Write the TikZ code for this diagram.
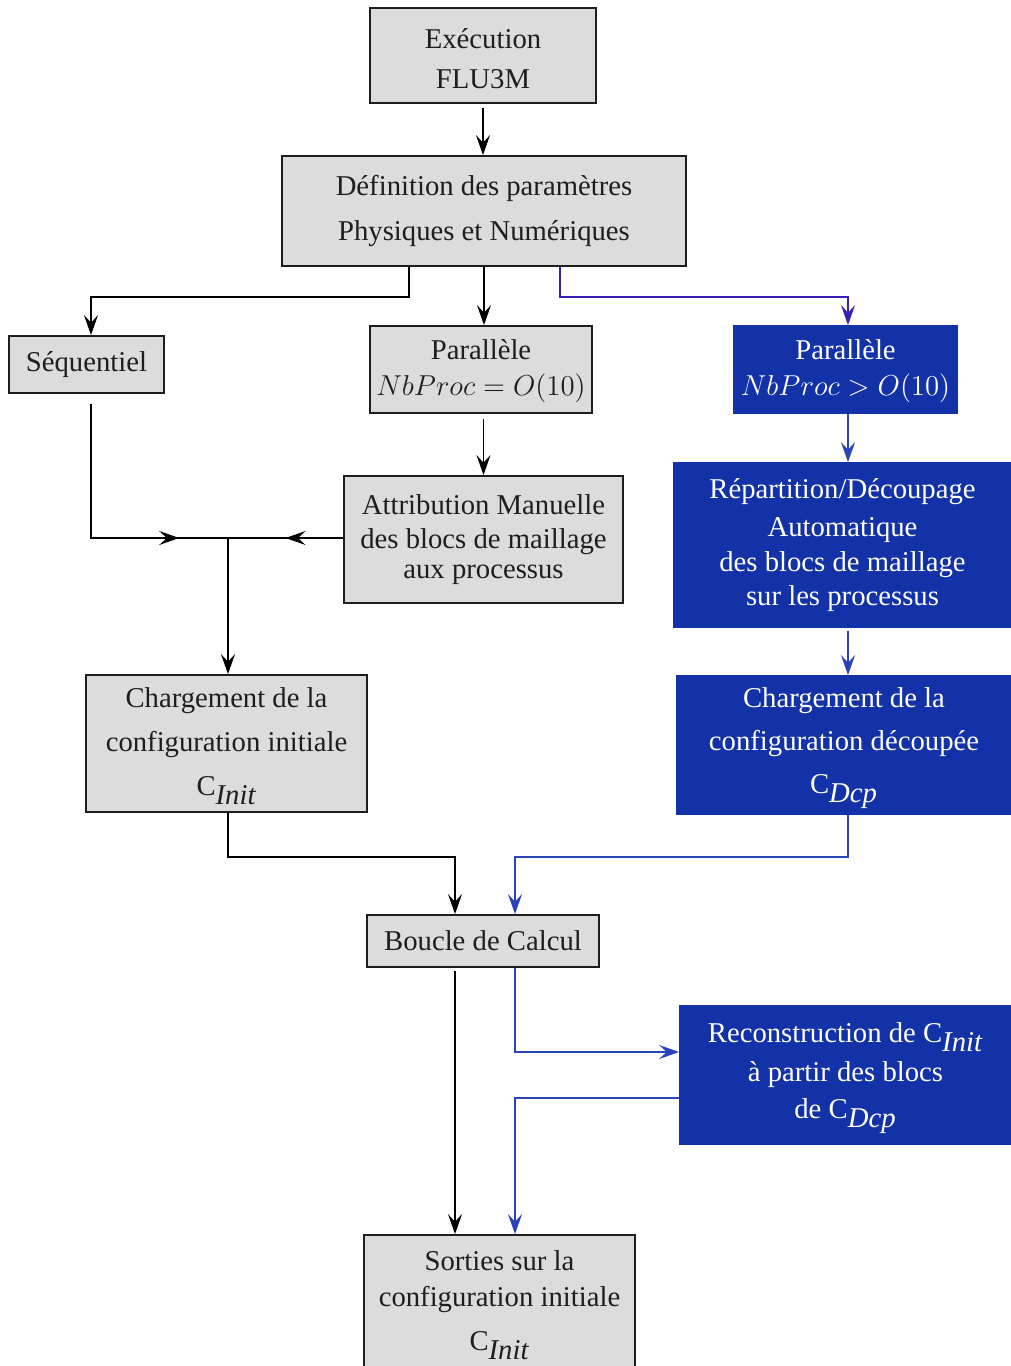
\documentclass[tikz,border=0pt]{standalone}
\usepackage{fontspec}
\setmainfont{Liberation Serif}
\usetikzlibrary{arrows.meta,calc,decorations.markings}
\definecolor{gfill}{HTML}{DCDCDC}
\definecolor{gtext}{HTML}{1E1E1E}
\definecolor{bfill}{HTML}{1432A8}
\definecolor{bline}{HTML}{2A44B8}
\definecolor{pline}{HTML}{3C1EB4}
\tikzset{
  tipA/.tip={Stealth[length=10pt,width=7pt,inset=3.8pt]},
  gbox/.style={draw=gtext,line width=0.9pt,fill=gfill,text=gtext,inner sep=0pt,align=center,
    font=\fontsize{14.35}{17.2}\selectfont},
  bbox/.style={draw=bfill,line width=0.9pt,fill=bfill,text=white,inner sep=0pt,align=center,
    font=\fontsize{14.35}{17.2}\selectfont},
  conn/.style={line width=0.8pt,draw=black},
  arr/.style={conn,-tipA},
  barr/.style={line width=0.75pt,draw=bline,-tipA},
  parr/.style={line width=0.75pt,draw=pline,-tipA},
  midarr/.style={postaction={decorate,decoration={markings,mark=at position #1 with {\arrow{tipA}}}}}
}
\begin{document}
\begin{tikzpicture}[x=0.5pt,y=-0.5pt]
\clip (0,0) rectangle (1011,1366);
\fill[white] (0,0) rectangle (1011,1366);

% nodes (px coordinates, sizes in pt = px/2)
\node[gbox,minimum width=113pt,minimum height=47.5pt] (exe) at (483,55.5)
  {\rule{0pt}{13pt}Exécution\\[2.8pt]FLU3M};
\node[gbox,minimum width=202pt,minimum height=55pt] (def) at (484,211)
  {Définition des paramètres\\[5.3pt]Physiques et Numériques};
\node[gbox,minimum width=77.5pt,minimum height=28.5pt] (seq) at (86.5,364.5)
  {Séquentiel};
\node[gbox,minimum width=111pt,minimum height=43.5pt] (par1) at (481,369.5)
  {\rule{0pt}{12pt}Parallèle\\[0.8pt]$NbProc = O(10)$};
\node[bbox,minimum width=111.5pt,minimum height=43.5pt] (par2) at (845.5,369.5)
  {\rule{0pt}{12pt}Parallèle\\[0.8pt]$NbProc > O(10)$};
\node[gbox,minimum width=139.5pt,minimum height=63.5pt] (att) at (483.5,539.5)
  {Attribution Manuelle\\[-0.3pt]des blocs de maillage\\[-2pt]aux processus};
\node[bbox,minimum width=168.5pt,minimum height=82pt] (rep) at (842.5,545)
  {Répartition/Découpage\\[1.6pt]Automatique\\[0.6pt]des blocs de maillage\\[-0.6pt]sur les processus};
\node[gbox,minimum width=140.5pt,minimum height=68.5pt] (chi) at (226.5,743.5)
  {\rule{0pt}{13pt}Chargement de la\\[4.8pt]configuration initiale\\[4.8pt]C$_{\textit{Init}}$};
\node[bbox,minimum width=167pt,minimum height=69pt] (chd) at (844,745)
  {\rule{0pt}{13pt}Chargement de la\\[4.6pt]configuration découpée\\[4.2pt]C$_{\textit{Dcp}}$};
\node[gbox,minimum width=116pt,minimum height=26pt] (bou) at (483,941)
  {Boucle de Calcul};
\node[bbox,minimum width=165.5pt,minimum height=69pt] (rec) at (845.5,1075)
  {\rule{0pt}{13pt}Reconstruction de C$_{\textit{Init}}$\\[2.3pt]à partir des blocs\\[1.3pt]de C$_{\textit{Dcp}}$};
\node[gbox,minimum width=135.5pt,minimum height=67pt] (sor) at (499.5,1302)
  {\rule{0pt}{13pt}Sorties sur la\\[0.8pt]configuration initiale\\[4.8pt]C$_{\textit{Init}}$};

% junction
\coordinate (j) at (228,538);

% connectors
\draw[arr,shorten <=2pt] (exe.south) -- (exe.south |- def.north);
\draw[arr] ([xshift=-37.5pt]def.south) -- ++(0,30) -| ([xshift=2.25pt]seq.north);
\draw[arr] (def.south) -- (def.south |- par1.north);
\draw[parr] ([xshift=38pt]def.south) -- ++(0,30) -| ([xshift=1.25pt]par2.north);

\draw[conn,midarr=0.82] ([xshift=2.25pt,yshift=-5pt]seq.south) |- (j);
\draw[conn,midarr=0.5] (att.west |- j) -- (j);
\draw[arr] (j) -- (j |- chi.north);

\draw[arr,shorten <=2.5pt] (par1.south -| att.north) -- (att.north);
\draw[barr] ([xshift=2.75pt]rep.north |- par2.south) -- ([xshift=2.75pt]rep.north);
\draw[barr,shorten <=1.5pt] ([xshift=2.75pt]rep.south) -- ([xshift=2.75pt]rep.south |- chd.north);

\draw[arr] ([xshift=0.75pt]chi.south) -- ++(0,44) -| ([xshift=-14pt]bou.north);
\draw[barr] ([xshift=2pt]chd.south) -- ++(0,42) -| ([xshift=16pt]bou.north);

\draw[arr,shorten <=1.5pt] ([xshift=-14pt]bou.south) -- ([xshift=-14pt]bou.south |- sor.north);
\draw[barr] ([xshift=16pt]bou.south) |- ([yshift=11.5pt]rec.west);
\draw[barr] ([yshift=-11.5pt]rec.west) -| ([xshift=16pt]bou.south |- sor.north);
\end{tikzpicture}
\end{document}
